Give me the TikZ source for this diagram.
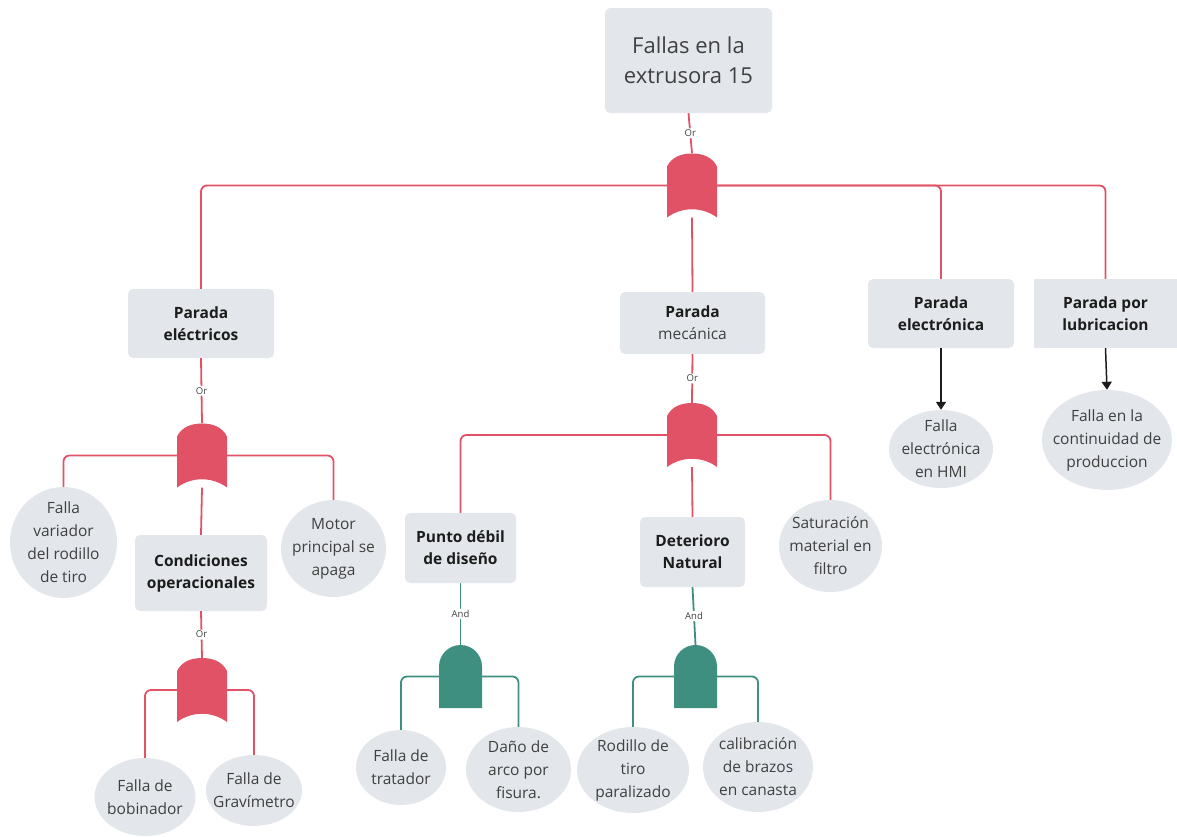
\documentclass[tikz,border=0pt]{standalone}
\usepackage{fontspec}
\setmainfont{Open Sans}
\usetikzlibrary{arrows.meta,shapes.geometric}

\definecolor{boxfill}{HTML}{E3E7EC}
\definecolor{orred}{HTML}{E15267}
\definecolor{andteal}{HTML}{3F8F80}
\definecolor{txtdark}{HTML}{1C1C1C}
\definecolor{txtgray}{HTML}{404040}

\tikzset{
  event/.style={fill=boxfill, rounded corners=5pt, align=center, inner sep=0pt,
    font=\fontsize{15.5}{22}\selectfont\bfseries, text=txtdark},
  basic/.style={ellipse, fill=boxfill, align=center, inner sep=-12pt,
    font=\fontsize{15.5}{23}\selectfont, text=txtgray},
  gatebox/.style={inner sep=0pt, minimum width=#1},
  orwire/.style={draw=orred, line width=1.8pt, rounded corners=6pt},
  andwire/.style={draw=andteal, line width=1.8pt, rounded corners=6pt},
  gatelabel/.style={fill=white, inner sep=1.5pt, font=\fontsize{9.5}{10}\selectfont, text=txtgray},
  plainarrow/.style={draw=txtdark, line width=1.5pt, -{Triangle[width=10pt,length=8pt]}},
}

% OR gate outline around a named gate node (50 x 64)
\newcommand\draworgate[1]{%
  \fill[orred] ([shift={(-25pt,-32pt)}]#1.center) -- ([shift={(-25pt,19pt)}]#1.center)
    .. controls ([shift={(-20pt,29pt)}]#1.center) and ([shift={(-10pt,32pt)}]#1.center) .. ([shift={(0pt,32pt)}]#1.center)
    .. controls ([shift={(10pt,32pt)}]#1.center) and ([shift={(20pt,29pt)}]#1.center) .. ([shift={(25pt,19pt)}]#1.center)
    -- ([shift={(25pt,-32pt)}]#1.center)
    .. controls ([shift={(10pt,-21pt)}]#1.center) and ([shift={(-10pt,-21pt)}]#1.center) .. cycle;}
% AND gate outline around a named gate node (43 x 63)
\newcommand\drawandgate[1]{%
  \fill[andteal] ([shift={(-21.5pt,-31.5pt)}]#1.center) -- ([shift={(-21.5pt,10pt)}]#1.center)
    arc[start angle=180, end angle=0, radius=21.5pt]
    -- ([shift={(21.5pt,-31.5pt)}]#1.center) -- cycle;}

\begin{document}
\begin{tikzpicture}[x=1pt, y=-1pt]
\useasboundingbox (0,0) rectangle (1177,836);

% ---- events ----
\node[event, minimum width=167, minimum height=105, font=\fontsize{22}{30}\selectfont, text=txtgray]
  (top) at (688.5,60.5) {Fallas en la\\extrusora 15};
\node[event, minimum width=146, minimum height=69] (pe) at (201,323.5) {Parada\\eléctricos};
\node[event, minimum width=132, minimum height=76] (cond) at (201,573) {Condiciones\\operacionales};
\node[event, minimum width=145, minimum height=62] (pm) at (692.5,323) {Parada\\{\mdseries\color{txtgray}mecánica}};
\node[event, minimum width=111, minimum height=70] (pd) at (460.5,548) {Punto débil\\de diseño};
\node[event, minimum width=105, minimum height=70] (dn) at (692.5,552) {Deterioro\\Natural};
\node[event, minimum width=146, minimum height=69] (pel) at (941,313.5) {Parada\\electrónica};
\node[event, rounded corners=0pt, minimum width=143, minimum height=69] (plub) at (1105.5,313.5) {Parada por\\lubricacion};

% ---- basic events ----
\node[basic, minimum width=107, minimum height=111] (fv) at (63.5,542.5) {Falla\\variador\\del rodillo\\de tiro};
\node[basic, minimum width=105, minimum height=97] (mp) at (333.5,548.5) {Motor\\principal se\\apaga};
\node[basic, minimum width=101, minimum height=78] (fb) at (145,797) {Falla de\\bobinador};
\node[basic, minimum width=96, minimum height=71] (fg) at (254,790.5) {Falla de\\Gravímetro};
\node[basic, minimum width=90, minimum height=75] (ft) at (401,767.5) {Falla de\\tratador};
\node[basic, minimum width=105, minimum height=85] (da) at (518.5,769.5) {Daño de\\arco por\\fisura.};
\node[basic, minimum width=112, minimum height=86] (rt) at (633,770) {Rodillo de\\tiro\\paralizado};
\node[basic, minimum width=110, minimum height=90] (cb) at (758,767) {calibración\\de brazos\\en canasta};
\node[basic, minimum width=103, minimum height=92] (sm) at (830.5,546) {Saturación\\material en\\filtro};
\node[basic, minimum width=104, minimum height=78] (fe) at (941,449) {Falla\\electrónica\\en HMI};
\node[basic, minimum width=130, minimum height=100] (fc) at (1107,440) {Falla en la\\continuidad de\\produccion};

% ---- gate anchors ----
\node[gatebox=50, minimum height=64] (g1) at (692,185.5) {};
\node[gatebox=50, minimum height=64] (g2) at (202,455.5) {};
\node[gatebox=50, minimum height=64] (g3) at (202,690) {};
\node[gatebox=50, minimum height=64] (g4) at (692,435) {};
\node[gatebox=43, minimum height=63] (g5) at (460.5,676.5) {};
\node[gatebox=43, minimum height=63] (g6) at (695.5,676.5) {};

% ---- wiring ----
\draw[orwire] (pe.north) |- (g1.center) -| (plub.north);
\draw[orwire] (g1.center) -| (pel.north);
\draw[orwire] (g1.south) -- (pm.north);
\draw[orwire] (top.south) -- node[gatelabel] (l1) {Or} (g1.north);

\draw[orwire] (fv.north) |- (g2.center) -| (mp.north);
\draw[orwire] (g2.south) -- (cond.north);
\draw[orwire] (pe.south) -- node[gatelabel] (l2) {Or} (g2.north);

\draw[orwire] (fb.north) |- (g3.center) -| (fg.north);
\draw[orwire] (cond.south) -- node[gatelabel] (l3) {Or} (g3.north);

\draw[orwire] (pd.north) |- (g4.center) -| (sm.north);
\draw[orwire] (g4.south) -- (dn.north);
\draw[orwire] (pm.south) -- node[gatelabel] (l4) {Or} (g4.north);

\draw[andwire] (ft.north) |- (g5.center) -| (da.north);
\draw[andwire] (pd.south) -- node[gatelabel] (l5) {And} (g5.north);

\draw[andwire] (rt.north) |- (g6.center) -| (cb.north);
\draw[andwire] (dn.south) -- node[gatelabel] (l6) {And} (g6.north);

\draw[plainarrow] (pel.south) -- (fe.north);
\draw[plainarrow] (plub.south) -- (fc.north);

% ---- gate symbols ----
\draworgate{g1}
\draworgate{g2}
\draworgate{g3}
\draworgate{g4}
\drawandgate{g5}
\drawandgate{g6}
\end{tikzpicture}
\end{document}
